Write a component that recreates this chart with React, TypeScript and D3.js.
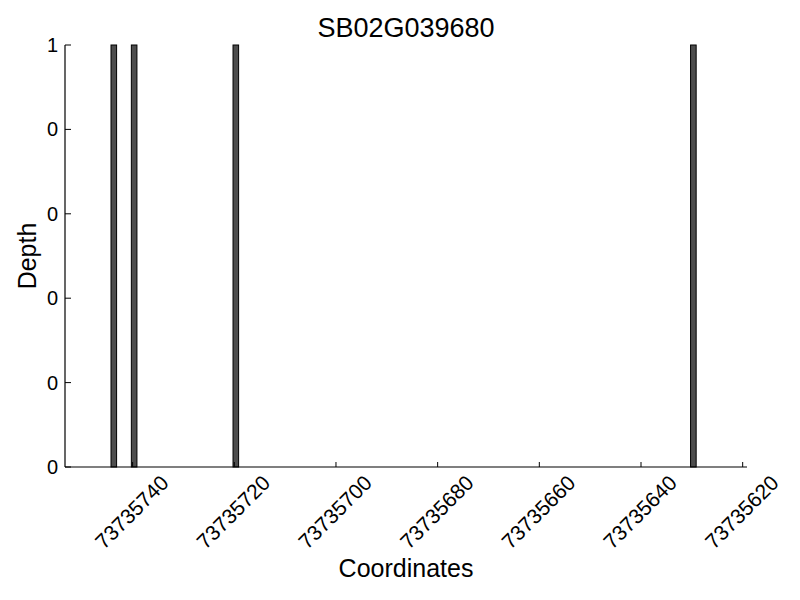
import React from 'react';
import { scaleLinear } from 'd3';

// data
const title = 'SB02G039680';
const positions = [73735744, 73735740, 73735720, 73735630];
const depths = [1, 1, 1, 1];
const xTicks = [73735740, 73735720, 73735700, 73735680, 73735660, 73735640, 73735620];
const yTicks = [0, 0.2, 0.4, 0.6, 0.8, 1];
const yTickLabels = ['0', '0', '0', '0', '0', '1'];

const W = 800;
const H = 600;
const margin = { left: 65, right: 53, top: 45, bottom: 133 };
const font = '"Liberation Sans", Arial, Helvetica, sans-serif';

function App() {
  const x = scaleLinear()
    .domain([73735753.3, 73735619.15])
    .range([margin.left, W - margin.right]);
  const y = scaleLinear()
    .domain([0, 1])
    .range([H - margin.bottom, margin.top]);

  const [y0, yTop] = y.range();
  const barW = Math.abs(x(0) - x(1.1));
  const cx = (margin.left + W - margin.right) / 2;

  return (
    <svg width={W} height={H} style={{ position: 'absolute', left: 0, top: 0, background: '#fff' }}>
      <text x={cx} y={28} textAnchor="middle" dominantBaseline="central"
        style={{ fontFamily: font, fontSize: 27 }}>{title}</text>

      {positions.map((p, i) => {
        const c = x(p - 0.3);
        return (
          <rect key={i} x={c - barW / 2} y={y(depths[i])} width={barW}
            height={y0 - y(depths[i])} fill="#4d4d4d" stroke="#000" strokeWidth={1} />
        );
      })}

      {/* spines */}
      <line x1={margin.left} x2={margin.left} y1={yTop} y2={y0} stroke="#000" strokeWidth={1.2} />
      <line x1={margin.left} x2={W - margin.right} y1={y0} y2={y0} stroke="#000" strokeWidth={1.2} />

      {yTicks.map((t, i) => (
        <g key={i}>
          <line x1={margin.left} x2={margin.left + 6} y1={y(t)} y2={y(t)} stroke="#000" />
          <text x={margin.left - 7} y={y(t)} textAnchor="end" dominantBaseline="central"
            style={{ fontFamily: font, fontSize: 20 }}>{yTickLabels[i]}</text>
        </g>
      ))}

      {xTicks.map((t, i) => (
        <g key={i}>
          <line x1={x(t)} x2={x(t)} y1={y0} y2={y0 - 5} stroke="#000" />
          <text transform={`translate(${x(t) - 1},${y0 + 45}) rotate(-45)`}
            textAnchor="middle" dominantBaseline="central"
            style={{ fontFamily: font, fontSize: 21 }}>{t}</text>
        </g>
      ))}

      <text x={cx} y={568} textAnchor="middle" dominantBaseline="central"
        style={{ fontFamily: font, fontSize: 25 }}>Coordinates</text>
      <text transform={`translate(27,${(yTop + y0) / 2}) rotate(-90)`} textAnchor="middle"
        dominantBaseline="central" style={{ fontFamily: font, fontSize: 25 }}>Depth</text>
    </svg>
  );
}

export default App;
